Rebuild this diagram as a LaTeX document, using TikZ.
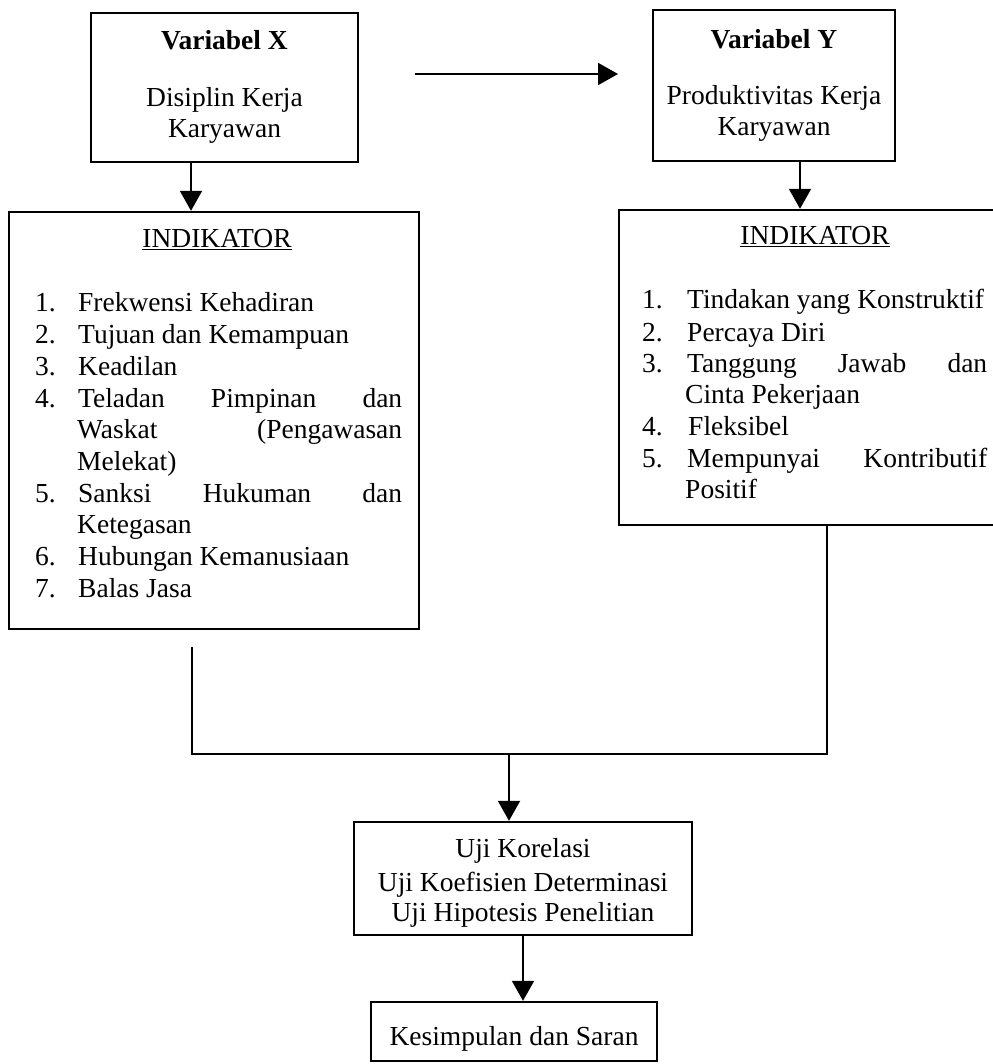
\documentclass[tikz,border=0pt]{standalone}
\usepackage{fontspec}
\setmainfont{Liberation Serif}
\usetikzlibrary{arrows.meta}
\begin{document}
\begin{tikzpicture}[x=1pt,y=-1pt,
  box/.style={draw, line width=2.4pt, inner sep=0},
  conn/.style={line width=2pt},
  arr/.style={line width=2pt, -{Triangle[length=20pt,width=22pt]}},
  txt/.style={anchor=base, inner sep=0, font=\fontsize{27.5}{32}\selectfont},
  btxt/.style={anchor=base, inner sep=0, font=\fontsize{27.5}{32}\selectfont\bfseries},
  ln/.style={anchor=base west, inner sep=0, font=\fontsize{27.5}{32}\selectfont}]
\useasboundingbox (0,0) rectangle (992,1064);
% boxes
\node[box, minimum width=267pt, minimum height=149pt] (vx) at (224.5,87.5) {};
\node[box, minimum width=242pt, minimum height=151pt] (vy) at (774,85.5) {};
\node[box, minimum width=410pt, minimum height=417pt] (li) at (214,420.5) {};
\node[box, minimum width=378pt, minimum height=315pt] (ri) at (808,367.5) {};
\node[box, minimum width=338pt, minimum height=113pt] (uji) at (523,878.5) {};
\node[box, minimum width=286pt, minimum height=59pt] (ks) at (514,1031.5) {};
% box texts
\node[btxt] (tx1) at (224.5,50) {Variabel X};
\node[txt] (tx2) at (224.5,107) {Disiplin Kerja};
\node[txt] (tx3) at (224.5,138) {Karyawan};
\node[btxt] (ty1) at (774,49) {Variabel Y};
\node[txt] (ty2) at (774,105) {Produktivitas Kerja};
\node[txt] (ty3) at (774,136) {Karyawan};
\node[txt] (il) at (217,248) {\underline{INDIKATOR}};
\node[txt] (ir) at (815,245) {\underline{INDIKATOR}};
% left list
\node[ln] (n1) at (35,311) {1.};
\node[ln] (a1) at (78,311) {Frekwensi Kehadiran};
\node[ln] (n2) at (35,343) {2.};
\node[ln] (a2) at (78,343) {Tujuan dan Kemampuan};
\node[ln] (n3) at (35,375) {3.};
\node[ln] (a3) at (78,375) {Keadilan};
\node[ln] (n4) at (35,407) {4.};
\node[ln] (a4) at (78,407) {\makebox[324pt][s]{Teladan Pimpinan dan}};
\node[ln] (a4b) at (77,438) {\makebox[325pt][s]{Waskat (Pengawasan}};
\node[ln] (a4c) at (77,470) {Melekat)};
\node[ln] (n5) at (35,502) {5.};
\node[ln] (a5) at (78,502) {\makebox[324pt][s]{Sanksi Hukuman dan}};
\node[ln] (a5b) at (77,533) {Ketegasan};
\node[ln] (n6) at (35,565) {6.};
\node[ln] (a6) at (78,565) {Hubungan Kemanusiaan};
\node[ln] (n7) at (35,597) {7.};
\node[ln] (a7) at (78,597) {Balas Jasa};
% right list
\node[ln] (m1) at (642,308) {1.};
\node[ln] (b1) at (687,308) {Tindakan yang Konstruktif};
\node[ln] (m2) at (642,341) {2.};
\node[ln] (b2) at (687,341) {Percaya Diri};
\node[ln] (m3) at (642,372) {3.};
\node[ln] (b3) at (687,372) {\makebox[300pt][s]{Tanggung Jawab dan}};
\node[ln] (b3b) at (685,403) {Cinta Pekerjaan};
\node[ln] (m4) at (642,435) {4.};
\node[ln] (b4) at (688,435) {Fleksibel};
\node[ln] (m5) at (642,467) {5.};
\node[ln] (b5) at (687,467) {\makebox[300pt][s]{Mempunyai Kontributif}};
\node[ln] (b5b) at (685,498) {Positif};
% bottom texts
\node[txt] (u1) at (523,857) {Uji Korelasi};
\node[txt] (u2) at (523,891) {Uji Koefisien Determinasi};
\node[txt] (u3) at (523,921) {Uji Hipotesis Penelitian};
\node[txt] (k1) at (514,1045) {Kesimpulan dan Saran};
% connectors
\coordinate (ax) at (191,0);
\coordinate (ay) at (800,0);
\coordinate (h1) at (415,74);
\coordinate (h2) at (618,74);
\coordinate (l1) at (192,647);
\coordinate (jr) at (827,754);
\coordinate (am) at (509,754);
\coordinate (am2) at (523,0);
\draw[arr] (vx.south -| ax) -- (li.north -| ax);
\draw[arr] (vy.south -| ay) -- (ri.north -| ay);
\draw[arr] (h1) -- (h2);
\draw[conn] (l1) |- (jr) -- (ri.south -| jr);
\draw[arr] (am) -- (uji.north -| am);
\draw[arr] (uji.south -| am2) -- (ks.north -| am2);
\end{tikzpicture}
\end{document}
